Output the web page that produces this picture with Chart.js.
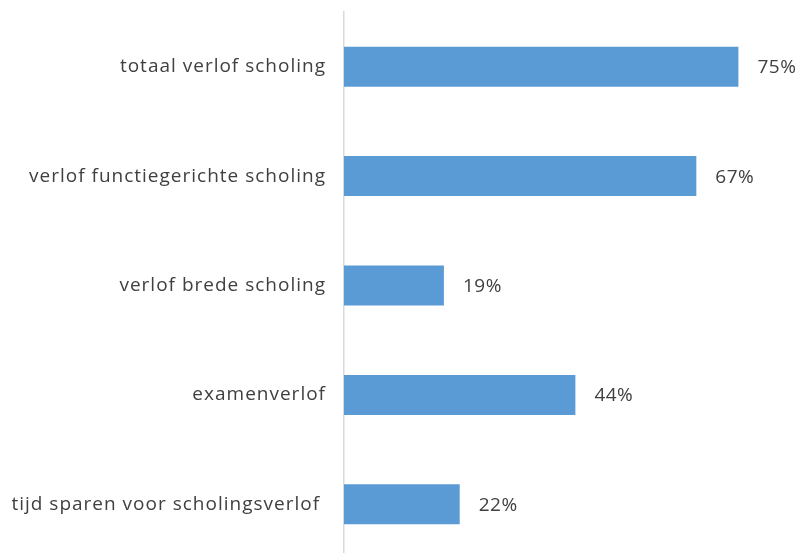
<!DOCTYPE html>
<html>
<head>
<meta charset="utf-8">
<script src="https://cdn.jsdelivr.net/npm/chart.js@4"></script>
<style>
  html, body { margin: 0; padding: 0; background: #fff; overflow: hidden; }
  #wrap { width: 800px; height: 559px; position: relative; }
</style>
</head>
<body>
<div id="wrap"><canvas id="c"></canvas></div>
<script>
const categories = [
  'totaal verlof scholing',
  'verlof functiegerichte scholing',
  'verlof brede scholing',
  'examenverlof',
  'tijd sparen voor scholingsverlof '
];
const percentages = [75, 67, 19, 44, 22];

const FONT = '"Open Sans", Lato, sans-serif';
const TEXT = '#404040';

// Slightly wider letter spacing for all canvas text
const spacing = {
  id: 'spacing',
  beforeDraw(chart) {
    if ('letterSpacing' in chart.ctx) chart.ctx.letterSpacing = '1px';
  }
};

// Draws the percentage to the right of each bar
const valueLabels = {
  id: 'valueLabels',
  afterDatasetsDraw(chart) {
    const ctx = chart.ctx;
    const meta = chart.getDatasetMeta(0);
    ctx.save();
    if ('letterSpacing' in ctx) ctx.letterSpacing = '0.5px';
    ctx.font = '19px ' + FONT;
    ctx.fillStyle = TEXT;
    ctx.textAlign = 'left';
    ctx.textBaseline = 'middle';
    meta.data.forEach((bar, i) => {
      ctx.fillText(percentages[i] + '%', bar.x + 19, bar.y + 1);
    });
    ctx.restore();
  }
};

new Chart(document.getElementById('c'), {
  type: 'bar',
  data: {
    labels: categories,
    datasets: [{
      data: percentages,
      backgroundColor: '#5B9BD5',
      borderWidth: 0,
      categoryPercentage: 1,
      barPercentage: 0.366
    }]
  },
  options: {
    indexAxis: 'y',
    responsive: true,
    maintainAspectRatio: false,
    animation: false,
    layout: { padding: { top: 12, right: 9, bottom: 0, left: 0 } },
    plugins: { legend: { display: false }, tooltip: { enabled: false } },
    scales: {
      x: {
        display: false,
        min: 0,
        max: 85
      },
      y: {
        grid: { display: false, drawTicks: false },
        border: { display: true, color: '#d9d9d9', width: 1.5 },
        ticks: {
          color: TEXT,
          padding: 18,
          font: { family: FONT, size: 19 }
        },
        afterFit(scale) {
          scale.width = 344;
          scale.paddingTop = 0;
          scale.paddingBottom = 0;
        }
      }
    }
  },
  plugins: [spacing, valueLabels]
});
</script>
</body>
</html>
